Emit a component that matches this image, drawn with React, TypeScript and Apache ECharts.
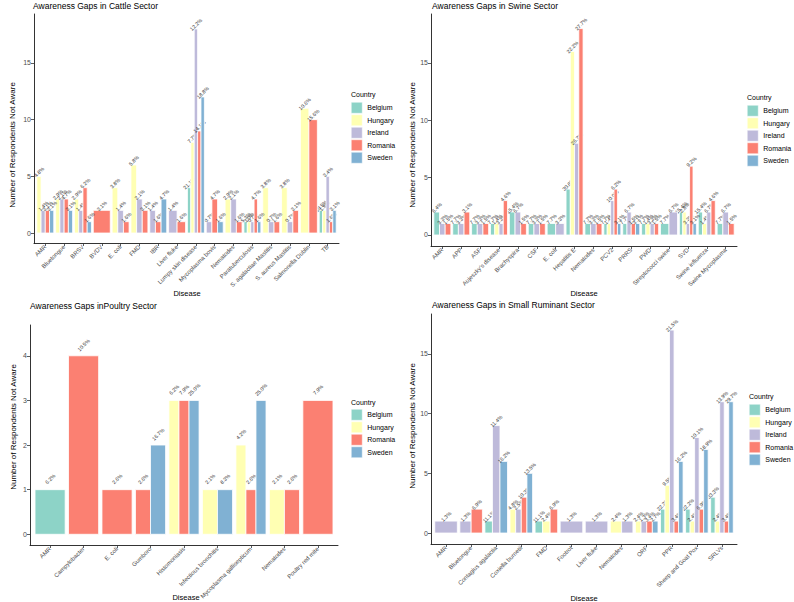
import React, { useEffect, useRef } from "react";
import * as echarts from "echarts";

const FONT = "'Liberation Sans', Arial, Helvetica, sans-serif";

const countries = ["Belgium", "Hungary", "Ireland", "Romania", "Sweden"];
const countryColors = ["#8DD3C7", "#FFFFB3", "#BEBADA", "#FB8072", "#80B1D3"];

const bigTicks = [0, 5, 10, 15];
const poultryTicks = [0, 1, 2, 3, 4];

// ---------- Cattle ----------
const cattleCategories = [
  "AMR", "Bluetongue", "BRSV", "BVDV", "E. coli", "FMD", "IBR", "Liver fluke",
  "Lumpy skin disease", "Mycoplasma bovis", "Nematodes", "Paratuberculosis",
  "S. agalactiae Mastitis", "S. aureus Mastitis", "Salmonella Dublin", "TB",
];
const cattleBelgium = [0, 0, 0, 0, 0, 0, 0, 0, 4, 0, 0, 1, 0, 0, 0, 2];
const cattleHungary = [5, 3, 3, 0, 4, 6, 0, 0, 8, 0, 3, 1, 4, 4, 11, 2];
const cattleIreland = [2, 3, 2, 0, 2, 3, 2, 2, 18, 1, 3, 1, 1, 1, 0, 5];
const cattleRomania = [2, 3, 4, 2, 1, 2, 1, 1, 9, 3, 1, 3, 1, 2, 10, 1];
const cattleSweden = [2, 2, 1, 0, 0, 0, 3, 0, 12, 1, 0, 1, 0, 0, 0, 2];
const cattleBelgiumPct = [null, null, null, null, null, null, null, null, 21.1, null, null, 5.3, null, null, null, 10.5];
const cattleHungaryPct = [4.8, 2.9, 2.9, null, 3.8, 5.8, null, null, 7.7, null, 2.9, 1.0, 3.8, 3.8, 10.6, 1.9];
const cattleIrelandPct = [1.4, 2.1, 1.4, null, 1.4, 2.1, 1.4, 1.4, 12.2, 0.7, 2.1, 0.7, 0.7, 0.7, null, 3.4];
const cattleRomaniaPct = [3.1, 4.7, 6.2, 3.1, 1.6, 3.1, 1.6, 1.6, 14.1, 4.7, 1.6, 4.7, 1.6, 3.1, 15.6, 1.6];
const cattleSwedenPct = [3.1, 3.1, 1.6, null, null, null, 4.7, null, 18.8, 1.6, null, 1.6, null, null, null, 3.1];

// ---------- Swine ----------
const swineCategories = [
  "AMR", "APP", "ASF", "Aujeszky's disease", "Brachyspira", "CSF", "E. coli",
  "Hepatitis E", "Nematodes", "PCV2", "PRRS", "PWD", "Streptococci swine", "SVD",
  "Swine influenza", "Swine Mycoplasma",
];
const swineBelgium = [2, 1, 1, 1, 2, 1, 1, 4, 1, 1, 1, 1, 1, 2, 2, 1];
const swineHungary = [0, 0, 0, 1, 0, 0, 0, 16, 0, 1, 0, 1, 0, 2, 1, 0];
const swineIreland = [1, 1, 1, 1, 2, 1, 1, 8, 1, 3, 2, 1, 2, 1, 2, 2];
const swineRomania = [1, 2, 1, 3, 1, 1, 0, 18, 1, 4, 1, 1, 0, 6, 3, 1];
const swineSweden = [0, 0, 0, 0, 0, 0, 0, 0, 0, 1, 1, 0, 0, 1, 0, 0];
const swineBelgiumPct = [6.4, 7.7, 7.7, 7.7, 15.4, 7.7, 7.7, 30.8, 7.7, 7.7, 7.7, 7.7, 7.7, 15.4, 15.4, 7.7];
const swineHungaryPct = [null, null, null, 1.4, null, null, null, 22.2, null, 1.4, null, 1.4, null, 2.8, 1.4, null];
const swineIrelandPct = [3.3, 3.3, 3.3, 3.3, 6.7, 3.3, 3.3, 26.7, 3.3, 10.0, 6.7, 3.3, 6.7, 3.3, 6.7, 6.7];
const swineRomaniaPct = [1.5, 3.1, 1.5, 4.6, 1.5, 1.5, null, 27.7, 1.5, 6.2, 1.5, 1.5, null, 9.2, 4.6, 1.5];
const swineSwedenPct = [null, null, null, null, null, null, null, null, null, 3.1, 3.1, null, null, 3.1, null, null];

// ---------- Poultry ----------
const poultryCategories = [
  "AMR", "Campylobacter", "E. coli", "Gumboro", "Histomoniasis",
  "Infectious bronchitis", "Mycoplasma gallisepticum", "Nematodes", "Poultry red mite",
];
const poultryBelgium = [1, 0, 0, 0, 0, 0, 0, 0, 0];
const poultryHungary = [0, 0, 0, 0, 3, 1, 2, 1, 0];
const poultryRomania = [0, 4, 1, 1, 3, 0, 1, 1, 3];
const poultrySweden = [0, 0, 0, 2, 3, 1, 3, 0, 0];
const poultryBelgiumPct = [6.2, null, null, null, null, null, null, null, null];
const poultryHungaryPct = [null, null, null, null, 6.2, 2.1, 4.2, 2.1, null];
const poultryRomaniaPct = [null, 10.5, 2.6, 2.6, 7.9, null, 2.6, 2.6, 7.9];
const poultrySwedenPct = [null, null, null, 16.7, 25.0, 8.3, 25.0, null, null];

// ---------- Small ruminant ----------
const srCategories = [
  "AMR", "Bluetongue", "Contagius agalactia", "Coxiella burnetii", "FMD", "Footrot",
  "Liver fluke", "Nematodes", "ORF", "PPR", "Sheep and Goat Pox", "SRLVs",
];
const srBelgium = [0, 0, 1, 0, 1, 0, 0, 0, 0, 2, 2, 3];
const srHungary = [0, 0, 0, 2, 1, 0, 0, 1, 1, 4, 1, 1];
const srIreland = [1, 1, 9, 2, 0, 1, 1, 1, 1, 17, 8, 11];
const srRomania = [0, 2, 0, 3, 2, 0, 0, 0, 1, 1, 2, 1];
const srSweden = [0, 0, 6, 5, 0, 0, 0, 0, 1, 6, 7, 11];
const srBelgiumPct = [null, null, 11.1, null, 11.1, null, null, null, null, 22.2, 22.2, 33.3];
const srHungaryPct = [null, null, null, 4.8, 2.4, null, null, 2.4, 2.4, 9.5, 2.4, 2.4];
const srIrelandPct = [1.3, 1.3, 11.4, 2.5, null, 1.3, 1.3, 1.3, 1.3, 21.5, 10.1, 13.9];
const srRomaniaPct = [null, 6.9, null, 10.3, 6.9, null, null, null, 3.4, 3.4, 6.9, 3.4];
const srSwedenPct = [null, null, 16.2, 13.5, null, null, null, null, 2.7, 16.2, 18.9, 29.7];

type Panel = {
  title: string;
  cats: string[];
  vals: (number[] | null)[];
  pcts: ((number | null)[] | null)[];
  legend: string[];
  grid: { left: number; top: number; width: number; height: number };
  yMin: number;
  yMax: number;
  ticks: number[];
  titleXY: [number, number];
  yTitleXY: [number, number];
  xTitleXY: [number, number];
  legendXY: [number, number];
  legendTitleXY: [number, number];
};

const panels: Panel[] = [
  {
    title: "Awareness Gaps in Cattle Sector",
    cats: cattleCategories,
    vals: [cattleBelgium, cattleHungary, cattleIreland, cattleRomania, cattleSweden],
    pcts: [cattleBelgiumPct, cattleHungaryPct, cattleIrelandPct, cattleRomaniaPct, cattleSwedenPct],
    legend: ["Belgium", "Hungary", "Ireland", "Romania", "Sweden"],
    grid: { left: 34, top: 14, width: 305, height: 229 },
    yMin: -0.88, yMax: 19.32, ticks: bigTicks,
    titleXY: [33, 6], yTitleXY: [12, 145], xTitleXY: [187, 293],
    legendXY: [351, 102], legendTitleXY: [351, 94],
  },
  {
    title: "Awareness Gaps in Swine Sector",
    cats: swineCategories,
    vals: [swineBelgium, swineHungary, swineIreland, swineRomania, swineSweden],
    pcts: [swineBelgiumPct, swineHungaryPct, swineIrelandPct, swineRomaniaPct, swineSwedenPct],
    legend: ["Belgium", "Hungary", "Ireland", "Romania", "Sweden"],
    grid: { left: 431, top: 14, width: 306, height: 232 },
    yMin: -0.96, yMax: 19.27, ticks: bigTicks,
    titleXY: [432, 6], yTitleXY: [412, 145], xTitleXY: [584, 293],
    legendXY: [747, 105], legendTitleXY: [747, 97],
  },
  {
    title: "Awareness Gaps inPoultry Sector",
    cats: poultryCategories,
    vals: [poultryBelgium, poultryHungary, null, poultryRomania, poultrySweden],
    pcts: [poultryBelgiumPct, poultryHungaryPct, null, poultryRomaniaPct, poultrySwedenPct],
    legend: ["Belgium", "Hungary", "Romania", "Sweden"],
    grid: { left: 30, top: 325, width: 308, height: 220 },
    yMin: -0.24, yMax: 4.69, ticks: poultryTicks,
    titleXY: [30, 306], yTitleXY: [13, 427], xTitleXY: [186, 597],
    legendXY: [351, 409], legendTitleXY: [351, 402],
  },
  {
    title: "Awareness Gaps in Small Ruminant Sector",
    cats: srCategories,
    vals: [srBelgium, srHungary, srIreland, srRomania, srSweden],
    pcts: [srBelgiumPct, srHungaryPct, srIrelandPct, srRomaniaPct, srSwedenPct],
    legend: ["Belgium", "Hungary", "Ireland", "Romania", "Sweden"],
    grid: { left: 431, top: 314, width: 306, height: 230 },
    yMin: -0.92, yMax: 18.35, ticks: bigTicks,
    titleXY: [432, 305], yTitleXY: [412, 426], xTitleXY: [584, 598],
    legendXY: [749, 404], legendTitleXY: [749, 396],
  },
];

function buildOption() {
  const grids: any[] = [];
  const xAxes: any[] = [];
  const yAxes: any[] = [];
  const series: any[] = [];
  const legends: any[] = [];
  const graphics: any[] = [];

  panels.forEach((p, pi) => {
    grids.push({ ...p.grid, containLabel: false });
    const cats = p.cats;
    xAxes.push({
      type: "value",
      gridIndex: pi,
      min: -0.6,
      max: cats.length - 0.4,
      splitLine: { show: false },
      axisLine: { show: true, onZero: false, lineStyle: { color: "#000", width: 0.8 } },
      axisTick: {
        show: true,
        length: 3,
        lineStyle: { color: "#333", width: 0.8 },
        customValues: cats.map((_, i) => i),
      },
      axisLabel: {
        show: true,
        rotate: 45,
        fontSize: 6,
        fontFamily: FONT,
        color: "#4D4D4D",
        margin: 3,
        customValues: cats.map((_, i) => i),
        formatter: (v: number) => cats[Math.round(v)] ?? "",
      },
    });
    yAxes.push({
      type: "value",
      gridIndex: pi,
      min: p.yMin,
      max: p.yMax,
      splitLine: { show: false },
      axisLine: { show: true, onZero: false, lineStyle: { color: "#000", width: 0.8 } },
      axisTick: {
        show: true,
        length: 3,
        lineStyle: { color: "#333", width: 0.8 },
        customValues: p.ticks,
      },
      axisLabel: {
        show: true,
        fontSize: 7,
        fontFamily: FONT,
        color: "#4D4D4D",
        margin: 3,
        customValues: p.ticks,
      },
    });

    countries.forEach((country, ci) => {
      const vals = p.vals[ci];
      const pcts = p.pcts[ci];
      if (!vals || !pcts) return;
      const data: number[][] = [];
      const labels: string[] = [];
      vals.forEach((v, i) => {
        if (!v) return;
        let pos = 0;
        let count = 0;
        p.vals.forEach((arr, cj) => {
          if (arr && arr[i] > 0) {
            count++;
            if (cj < ci) pos++;
          }
        });
        data.push([i, v, pos, count]);
        const pc = pcts[i];
        labels.push(pc == null ? "" : pc.toFixed(1) + "%");
      });
      const color = countryColors[ci];
      series.push({
        type: "custom",
        name: country,
        coordinateSystem: "cartesian2d",
        xAxisIndex: pi,
        yAxisIndex: pi,
        itemStyle: { color },
        encode: { x: 0, y: 1 },
        data,
        renderItem: (params: any, api: any) => {
          const xi = api.value(0) as number;
          const v = api.value(1) as number;
          const pos = api.value(2) as number;
          const cnt = api.value(3) as number;
          const w = 0.9 / cnt;
          const x0 = xi - 0.45 + pos * w;
          const tl = api.coord([x0, v]);
          const br = api.coord([x0 + w, 0]);
          const lp = api.coord([x0 + w / 2, v + 0.19]);
          return {
            type: "group",
            children: [
              {
                type: "rect",
                shape: { x: tl[0], y: tl[1], width: br[0] - tl[0], height: br[1] - tl[1] },
                style: { fill: color, stroke: "#ffffff", lineWidth: 0.8 },
              },
              {
                type: "text",
                x: lp[0],
                y: lp[1] - 2.3,
                rotation: Math.PI / 4,
                style: {
                  text: labels[params.dataIndex],
                  fill: "#333333",
                  fontSize: 5.2,
                  fontFamily: FONT,
                  align: "center",
                  verticalAlign: "middle",
                  textAlign: "center",
                  textVerticalAlign: "middle",
                },
              },
            ],
          };
        },
      });
    });

    legends.push({
      orient: "vertical",
      left: p.legendXY[0],
      top: p.legendXY[1],
      itemWidth: 11,
      itemHeight: 11,
      itemGap: 1,
      icon: "rect",
      selectedMode: false,
      data: p.legend,
      padding: 0,
      textStyle: { fontSize: 7, fontFamily: FONT, color: "#000" },
      itemStyle: { borderColor: "#ffffff", borderWidth: 0.5 },
    });

    const txt = (x: number, y: number, text: string, size: number, align: string, rotation = 0) => ({
      type: "text",
      x,
      y,
      rotation,
      silent: true,
      style: {
        text,
        fill: "#000",
        fontSize: size,
        fontFamily: FONT,
        align,
        verticalAlign: "middle",
        textAlign: align,
        textVerticalAlign: "middle",
      },
    });
    graphics.push(txt(p.titleXY[0], p.titleXY[1], p.title, 8.5, "left"));
    graphics.push(txt(p.yTitleXY[0], p.yTitleXY[1], "Number of Respondents Not Aware", 8, "center", Math.PI / 2));
    graphics.push(txt(p.xTitleXY[0], p.xTitleXY[1], "Disease", 7.5, "center"));
    graphics.push(txt(p.legendTitleXY[0], p.legendTitleXY[1], "Country", 7, "left"));
  });

  return {
    animation: false,
    backgroundColor: "#ffffff",
    grid: grids,
    xAxis: xAxes,
    yAxis: yAxes,
    legend: legends,
    series,
    graphic: graphics,
  };
}

export default function App() {
  const ref = useRef<HTMLDivElement>(null);
  useEffect(() => {
    if (!ref.current) return;
    const chart = echarts.init(ref.current, undefined, { renderer: "svg" });
    chart.setOption(buildOption() as any);
    return () => chart.dispose();
  }, []);
  return (
    <div
      ref={ref}
      style={{ position: "absolute", left: 0, top: 0, width: 794, height: 602, background: "#fff" }}
    />
  );
}
